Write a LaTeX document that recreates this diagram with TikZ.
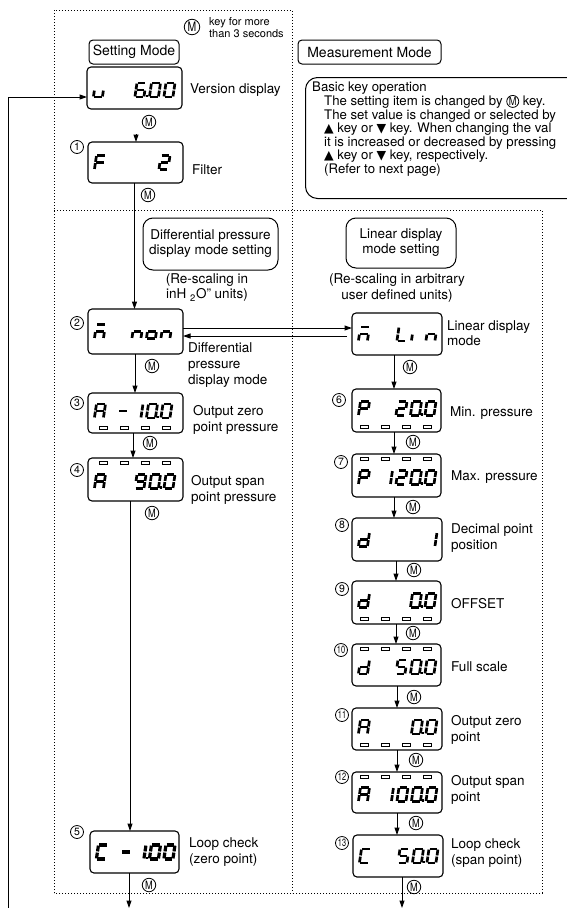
\documentclass[tikz,border=0pt]{standalone}
\usepackage{fontspec}
\setmainfont{TeX Gyre Heros}
\newfontfamily\dejavu{DejaVu Sans}
\usetikzlibrary{arrows.meta,calc}
\def\segloop#1{\ifx#1\relax\else\draw[lcdseg][sg#1];\expandafter\segloop\fi}
\newcommand\segch[2]{\begin{scope}[shift={(#1)},xslant=0.15]\expandafter\segloop#2\relax\end{scope}}
\newcommand\lcdtxt[8]{%
  \segch{$(#1.west)+(8.5,{-7+(#7)})$}{#2}%
  \segch{$(#1.east)+({-(#8)-53.5},{-7+(#7)})$}{#3}%
  \segch{$(#1.east)+({-(#8)-39},{-7+(#7)})$}{#4}%
  \segch{$(#1.east)+({-(#8)-24.5},{-7+(#7)})$}{#5}%
  \segch{$(#1.east)+({-(#8)-10},{-7+(#7)})$}{#6}}
\newcommand\lcdbox[5]{\node[lcd, minimum width={(#4-#2)*1pt}, minimum height={(#5-#3)*1pt}] (#1) at ({(#2+#4)/2},{(#3+#5)/2}) {};}
\newcommand\mktop[2]{\foreach \k in {0,1,2,3}{\draw[lcdmk] ($(#1.north west)+({#2+21*\k},3.5)$) rectangle +(8,3);}}
\newcommand\mkbot[2]{\foreach \k in {0,1,2,3}{\draw[lcdmk] ($(#1.south west)+({#2+21*\k},-6.5)$) rectangle +(8,3);}}
\newcommand\mk{\scalebox{0.8}[1]{M}}
\newcommand\up{{\dejavu\fontsize{12.5}{12.5}\selectfont ▲}}
\newcommand\dn{{\dejavu\fontsize{12.5}{12.5}\selectfont ▼}}
\begin{document}
\begin{tikzpicture}[x=1pt,y=-1pt,
  every node/.style={font=\fontsize{13.5}{16}\selectfont, text=black},
  lcd/.style={draw, line width=1.1pt, rounded corners=4pt, inner sep=0pt, outer sep=0pt},
  lcdseg/.style={line width=2.7pt, line cap=butt},
  lcdmk/.style={line width=0.7pt},
  sga/.style={insert path={(0.6,0)--(8.4,0)}},
  sgb/.style={insert path={(9,0.6)--(9,6.4)}},
  sgc/.style={insert path={(9,7.6)--(9,13.4)}},
  sgd/.style={insert path={(0.6,14)--(8.4,14)}},
  sge/.style={insert path={(0,7.6)--(0,13.4)}},
  sgf/.style={insert path={(0,0.6)--(0,6.4)}},
  sgg/.style={insert path={(0.6,7)--(8.4,7)}},
  sgp/.style={line width=2.1pt, insert path={(10.9,12.95)--(12.9,12.95)}},
  arr/.style={line width=1pt, -{Triangle[length=7.5pt,width=5pt]}},
  dotln/.style={line width=0.9pt, dash pattern=on 1.4pt off 1.6pt},
  numc/.style={circle, draw, line width=0.8pt, inner sep=0pt, minimum size=13pt, font=\fontsize{10.5}{10.5}\selectfont},
  mkey/.style={circle, draw, line width=0.8pt, inner sep=0pt, minimum size=13.5pt, font=\fontsize{11.5}{11.5}\selectfont},
  modebox/.style={draw, line width=1pt, rounded corners=4pt, inner sep=0pt, font=\fontsize{14}{16}\selectfont},
  lbl/.style={anchor=west, align=left, inner sep=0pt}
]
\clip (0,0) rectangle (567,908);
% dotted frames
\draw[dotln] (54,893) -- (54,10) -- (292,10) -- (292,893);
\draw[dotln] (54,210) -- (542,210) -- (542,893) -- (54,893);
% legend
\node[mkey, minimum size=15.5pt, font=\fontsize{13}{13}\selectfont] (mleg) at (192,27) {\mk};
\node[lbl, font=\fontsize{11}{11.5}\selectfont] (legtxt) at (209,27.5) {key for more\\than 3 seconds};
% mode boxes
\node[modebox, minimum width=90pt, minimum height=24pt] (setm) at (134,52) {Setting Mode};
\node[modebox, minimum width=143pt, minimum height=24pt] (measm) at (369.5,52) {Measurement Mode};
% basic key operation
\node[draw, line width=1pt, rounded corners=12pt, minimum width=290pt, minimum height=121pt, anchor=north west, inner sep=0pt] (keybox) at (305,77) {};
\node[anchor=north west, align=left, inner sep=0pt, font=\fontsize{13.2}{13.6}\selectfont] (keytxt) at (312,82) {Basic key operation\\
\hspace*{12pt}The setting item is changed by \tikz[baseline={([yshift=-4pt]mm.center)}]\node[mkey, minimum size=12pt] (mm) {\mk};\ key.\\
\hspace*{12pt}The set value is changed or selected by\\
\hspace*{12pt}\up\ key or \dn\ key. When changing the val\\
\hspace*{12pt}it is increased or decreased by pressing\\
\hspace*{12pt}\up\ key or \dn\ key, respectively.\\
\hspace*{12pt}(Refer to next page)};
% section boxes
\node[modebox, rounded corners=10pt, minimum width=135pt, minimum height=52pt, align=center, font=\fontsize{13.5}{15}\selectfont] (diffbox) at (210.5,244) {Differential pressure\\display mode setting};
\node[align=center, inner sep=0pt, font=\fontsize{13.5}{15}\selectfont] (diffnote) at (207,288) {(Re-scaling in\\inH \textsubscript{2}O” units)};
\node[modebox, rounded corners=10pt, minimum width=110pt, minimum height=50pt, align=center, font=\fontsize{13.5}{15}\selectfont] (linbox) at (401,243) {Linear display\\mode setting};
\node[align=center, inner sep=0pt, font=\fontsize{13.5}{15.5}\selectfont] (linnote) at (397,288) {(Re-scaling in arbitrary\\user defined units)};
% LCD boxes
\lcdbox{v}{87}{67}{182}{109}
\lcdbox{f}{88}{142}{183}{183}
\lcdbox{n2}{88}{309}{183}{354}
\lcdbox{a3}{88}{393}{183}{433}
\lcdbox{a4}{88}{458}{183}{501}
\lcdbox{c5}{90}{831}{179}{873}
\lcdbox{lin}{352}{313}{442}{355}
\lcdbox{p6}{352}{389}{441}{432}
\lcdbox{p7}{352}{454}{441}{497}
\lcdbox{d8}{352}{518}{442}{561}
\lcdbox{d9}{352}{581}{441}{624}
\lcdbox{d10}{352}{644}{441}{686}
\lcdbox{a11}{352}{708}{442}{750}
\lcdbox{a12}{352}{772}{442}{813}
\lcdbox{c13}{353}{835}{443}{877}
% LCD contents
\lcdtxt{v}{cde}{}{acdefgp}{abcdef}{abcdef}{2}{6}
\lcdtxt{f}{aefg}{}{}{}{abdeg}{0}{12}
\lcdtxt{n2}{aceg}{}{ceg}{cdeg}{ceg}{0}{10}
\lcdtxt{a3}{abcefg}{g}{bc}{abcdefp}{abcdef}{-2}{10}
\lcdtxt{a4}{abcefg}{}{abcdfg}{abcdefp}{abcdef}{2}{7}
\begin{scope}[lcdseg/.append style={line width=3.2pt}]
\lcdtxt{c5}{adef}{g}{bcp}{abcdef}{abcdef}{0}{3}
\end{scope}
\lcdtxt{lin}{aceg}{}{def}{e}{ceg}{0}{4}
\lcdtxt{p6}{abefg}{}{abdeg}{abcdefp}{abcdef}{-2}{4}
\lcdtxt{p7}{abefg}{bc}{abdeg}{abcdefp}{abcdef}{2}{4}
\lcdtxt{d8}{bcdeg}{}{}{}{bc}{0}{4}
\lcdtxt{d9}{bcdeg}{}{}{abcdefp}{abcdef}{-2}{4}
\lcdtxt{d10}{bcdeg}{}{acdfg}{abcdefp}{abcdef}{2}{4}
\lcdtxt{a11}{abcefg}{}{}{abcdefp}{abcdef}{-2}{4}
\lcdtxt{a12}{abcefg}{bc}{abcdef}{abcdefp}{abcdef}{2}{4}
\lcdtxt{c13}{adef}{}{acdfg}{abcdefp}{abcdef}{0}{4}
% segment markers
\mkbot{a3}{11}\mktop{a4}{11}
\mkbot{p6}{8}\mktop{p7}{8}\mkbot{d9}{8}\mktop{d10}{8}\mkbot{a11}{8}\mktop{a12}{8}
% step numbers
\node[numc] (c1) at (77,147) {1};
\node[numc] (c2) at (77,323) {2};
\node[numc] (c3) at (77,403) {3};
\node[numc] (c4) at (77,470) {4};
\node[numc] (c5n) at (77,832) {5};
\node[numc] (c6) at (339,400) {6};
\node[numc] (c7) at (341,462) {7};
\node[numc] (c8) at (342,525) {8};
\node[numc] (c9) at (342,589) {9};
\node[numc] (c10) at (341,650) {\scalebox{0.7}[1]{10}};
\node[numc] (c11) at (342,715) {\scalebox{0.7}[1]{11}};
\node[numc] (c12) at (342,777) {\scalebox{0.7}[1]{12}};
\node[numc] (c13n) at (342,843) {\scalebox{0.7}[1]{13}};
% M keys
\node[mkey] (m0) at (149,122) {\mk};
\node[mkey] (m1) at (148,195) {\mk};
\node[mkey] (m2) at (152,366) {\mk};
\node[mkey] (m3) at (150,443) {\mk};
\node[mkey] (m4) at (152,513) {\mk};
\node[mkey] (m5) at (149,885) {\mk};
\node[mkey] (m6) at (410,367) {\mk};
\node[mkey] (m7) at (413,442) {\mk};
\node[mkey] (m8) at (413,507) {\mk};
\node[mkey] (m9) at (414,570) {\mk};
\node[mkey] (m10) at (413,633) {\mk};
\node[mkey] (m11) at (414,697) {\mk};
\node[mkey] (m12) at (416,760) {\mk};
\node[mkey] (m13) at (416,823) {\mk};
\node[mkey] (m14) at (414,887) {\mk};
% labels
\node[lbl] (lv) at (190,90) {Version display};
\node[lbl] (lf) at (192,170) {Filter};
\node[lbl] (ln2) at (188,365) {Differential\\pressure\\display mode};
\node[lbl] (la3) at (193,420) {Output zero\\point pressure};
\node[lbl] (la4) at (191,490) {Output span\\point pressure};
\node[lbl] (lc5) at (189,852) {Loop check\\(zero point)};
\node[lbl, font=\fontsize{13.5}{14.5}\selectfont] (llin) at (447,333) {Linear display\\mode};
\node[lbl] (lp6) at (450,413) {Min. pressure};
\node[lbl] (lp7) at (451,477) {Max. pressure};
\node[lbl] (ld8) at (451,538) {Decimal point\\position};
\node[lbl] (ld9) at (451,604) {OFFSET};
\node[lbl] (ld10) at (451,667) {Full scale};
\node[lbl] (la11) at (451,730) {Output zero\\point};
\node[lbl] (la12) at (451,790) {Output span\\point};
\node[lbl] (lc13) at (451,853) {Loop check\\(span point)};
% connector columns
\coordinate (x0) at (136,0);
\coordinate (x1) at (134.5,0);
\coordinate (x2) at (135,0);
\coordinate (x3) at (133,0);
\coordinate (x4) at (130,0);
\coordinate (outL) at (129,908);
\coordinate (r1) at (394,0);
\coordinate (r2) at (396,0);
\coordinate (r3) at (397,0);
\coordinate (outR) at (402,908);
\coordinate (hu) at (0,328);
\coordinate (lostart) at (347,336);
\coordinate (loopb) at (8,912);
\coordinate (loopy) at (0,97);
% connectors
\draw[arr, shorten <=25pt] (v.south -| x0) -- (f.north -| x0);
\draw[arr] (f.south -| x1) -- (n2.north -| x1);
\draw[arr] (n2.south -| x2) -- (a3.north -| x2);
\draw[arr] (a3.south -| x3) -- (a4.north -| x3);
\draw[arr] (a4.south -| x4) -- (c5.north -| x4);
\draw[arr] (c5.south -| outL) -- (outL);
\draw[arr] (n2.east |- hu) -- (lin.west |- hu);
\draw[arr] (lostart) -- (n2.east |- lostart);
\draw[arr] (lin.south -| r1) -- (p6.north -| r1);
\draw[arr] (p6.south -| r1) -- (p7.north -| r1);
\draw[arr] (p7.south -| r1) -- (d8.north -| r1);
\draw[arr] (d8.south -| r2) -- (d9.north -| r2);
\draw[arr] (d9.south -| r2) -- (d10.north -| r2);
\draw[arr] (d10.south -| r3) -- (a11.north -| r3);
\draw[arr] (a11.south -| r3) -- (a12.north -| r3);
\draw[arr] (a12.south -| r3) -- (c13.north -| r3);
\draw[arr] (c13.south -| outR) -- (outR);
\draw[arr] (loopb) |- (v.west |- loopy);
\end{tikzpicture}
\end{document}
